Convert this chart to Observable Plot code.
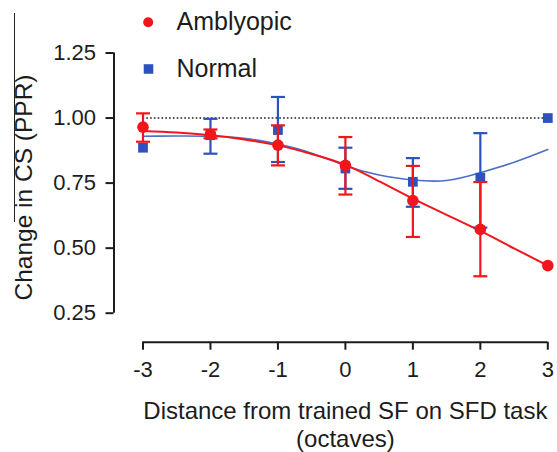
<!DOCTYPE html>
<html>
<head>
<meta charset="utf-8">
<script src="https://cdn.jsdelivr.net/npm/d3@7"></script>
<script src="https://cdn.jsdelivr.net/npm/@observablehq/plot@0.6"></script>
<style>
  html, body { margin: 0; padding: 0; background: #fff; }
  #chart { position: relative; width: 557px; height: 452px; }
  #chart svg { position: absolute; left: 0; top: 0; }
  #edge { position: absolute; left: 14px; top: 13px; width: 1px; height: 209px; background: #222; z-index: 2; }
</style>
</head>
<body>
<div id="chart"><div id="edge"></div></div>
<script>
// ---- data ----
const octaves = [-3, -2, -1, 0, 1, 2, 3];
const seriesNames = ["Amblyopic", "Normal"];

const amblyopicMean  = [0.965, 0.937, 0.896, 0.818, 0.683, 0.572, 0.433];
const amblyopicUpper = [1.018, 0.956, 0.972, 0.927, 0.816, 0.754, null];
const amblyopicLower = [0.909, 0.922, 0.818, 0.706, 0.543, 0.392, null];

const normalMean  = [0.886, 0.934, 0.954, 0.806, 0.755, 0.771, 1.000];
const normalUpper = [null, 0.997, 1.081, 0.886, 0.846, 0.942, null];
const normalLower = [null, 0.863, 0.831, 0.728, 0.659, 0.579, null];

// fitted curves
const fitX         = [-3, -2.5, -2, -1.5, -1, -0.5, 0, 0.5, 1, 1.5, 2, 2.5, 3];
const amblyopicFit = [0.950, 0.944, 0.934, 0.918, 0.895, 0.862, 0.820, 0.757, 0.690, 0.628, 0.566, 0.499, 0.433];
const normalFit    = [0.930, 0.931, 0.930, 0.922, 0.900, 0.865, 0.817, 0.781, 0.762, 0.760, 0.790, 0.830, 0.879];

const yTicks = [0.25, 0.50, 0.75, 1.00, 1.25];
const xTicks = [-3, -2, -1, 0, 1, 2, 3];
const referenceLevel = 1.0;

const yLabel = "Change in CS (PPR)";
const xLabel = "Distance from trained SF on SFD task\n(octaves)";

// ---- styles ----
const RED = "#f2151b";
const BLUE = "#2c52bb";
const BLUE_LINE = "#4a70c6";
const INK = "#1c1c1c";
const FONT = "'Liberation Sans', Arial, Helvetica, sans-serif";

// ---- tables ----
const rows = (mean, lo, hi, name) => octaves.map((x, i) => ({x, y: mean[i], lo: lo[i], hi: hi[i], name}));
const amb = rows(amblyopicMean, amblyopicLower, amblyopicUpper, seriesNames[0]);
const nor = rows(normalMean, normalLower, normalUpper, seriesNames[1]);
const fitA = fitX.map((x, i) => ({x, y: amblyopicFit[i]}));
const fitN = fitX.map((x, i) => ({x, y: normalFit[i]}));

const cap = { draw(ctx) { ctx.moveTo(-7, 0); ctx.lineTo(7, 0); } };

function errorMarks(data, color) {
  const withBars = data.filter(d => d.lo != null && d.hi != null);
  return [
    Plot.ruleX(withBars, {x: "x", y1: "lo", y2: "hi", stroke: color, strokeWidth: 2.2}),
    Plot.dot(withBars, {x: "x", y: "hi", symbol: cap, stroke: color, strokeWidth: 2.2, fill: "none", r: 7}),
    Plot.dot(withBars, {x: "x", y: "lo", symbol: cap, stroke: color, strokeWidth: 2.2, fill: "none", r: 7})
  ];
}

const yExt = d3.extent(yTicks);
const xExt = d3.extent(xTicks);
const AX_OFF = 29;

const chart = Plot.plot({
  width: 557,
  height: 452,
  marginLeft: 142.5,
  marginRight: 9.7,
  marginTop: 52.5,
  marginBottom: 139.3,
  style: {fontFamily: FONT, color: INK, background: "transparent", overflow: "visible"},
  x: {domain: xExt},
  y: {domain: yExt},
  marks: [
    // axes
    Plot.ruleX([xExt[0]], {y1: yExt[0], y2: yExt[1], dx: -AX_OFF, stroke: INK, strokeWidth: 2}),
    Plot.axisY({ticks: yTicks, tickFormat: d3.format(".2f"), tickSize: 8, tickPadding: 10, dx: -AX_OFF,
      label: null, fontSize: 22, strokeWidth: 2, stroke: INK, fill: INK}),
    Plot.ruleY([yExt[0]], {x1: xExt[0], x2: xExt[1], dy: AX_OFF, stroke: INK, strokeWidth: 2}),
    Plot.axisX({ticks: xTicks, tickFormat: d => String(d), tickSize: 8, tickPadding: 11, dy: AX_OFF,
      label: null, fontSize: 22, strokeWidth: 2, stroke: INK, fill: INK}),
    // axis titles
    Plot.text([yLabel], {frameAnchor: "left", textAnchor: "middle", rotate: -90, dx: -118.5, dy: 4.4, fontSize: 24.5, fill: INK}),
    Plot.text([xLabel], {frameAnchor: "bottom", lineAnchor: "top", dy: 86, fontSize: 24, lineHeight: 1.17, fill: INK}),
    // reference line
    Plot.ruleY([referenceLevel], {x1: xExt[0], x2: xExt[1], stroke: INK, strokeWidth: 1.6, strokeDasharray: "1.6,2.2"}),
    // fits
    Plot.line(fitN, {x: "x", y: "y", curve: "natural", stroke: BLUE_LINE, strokeWidth: 1.6}),
    Plot.line(fitA, {x: "x", y: "y", curve: "natural", stroke: RED, strokeWidth: 2}),
    // normal
    ...errorMarks(nor, BLUE),
    Plot.dot(nor, {x: "x", y: "y", symbol: "square", r: 5.5, fill: BLUE}),
    // amblyopic
    ...errorMarks(amb, RED),
    Plot.dot(amb, {x: "x", y: "y", r: 5.8, fill: RED}),
    // legend
    Plot.dot([seriesNames[0]], {frameAnchor: "top-left", dx: 5.2, dy: -30.8, r: 5, fill: RED}),
    Plot.text([seriesNames[0]], {frameAnchor: "top-left", lineAnchor: "middle", dx: 33.5, dy: -31, textAnchor: "start", fontSize: 25, fill: INK}),
    Plot.dot([seriesNames[1]], {frameAnchor: "top-left", dx: 5.5, dy: 16, symbol: "square", r: 5.4, fill: BLUE}),
    Plot.text([seriesNames[1]], {frameAnchor: "top-left", lineAnchor: "middle", dx: 33.5, dy: 15.8, textAnchor: "start", fontSize: 25, fill: INK})
  ]
});
document.getElementById("chart").appendChild(chart);
</script>
</body>
</html>
